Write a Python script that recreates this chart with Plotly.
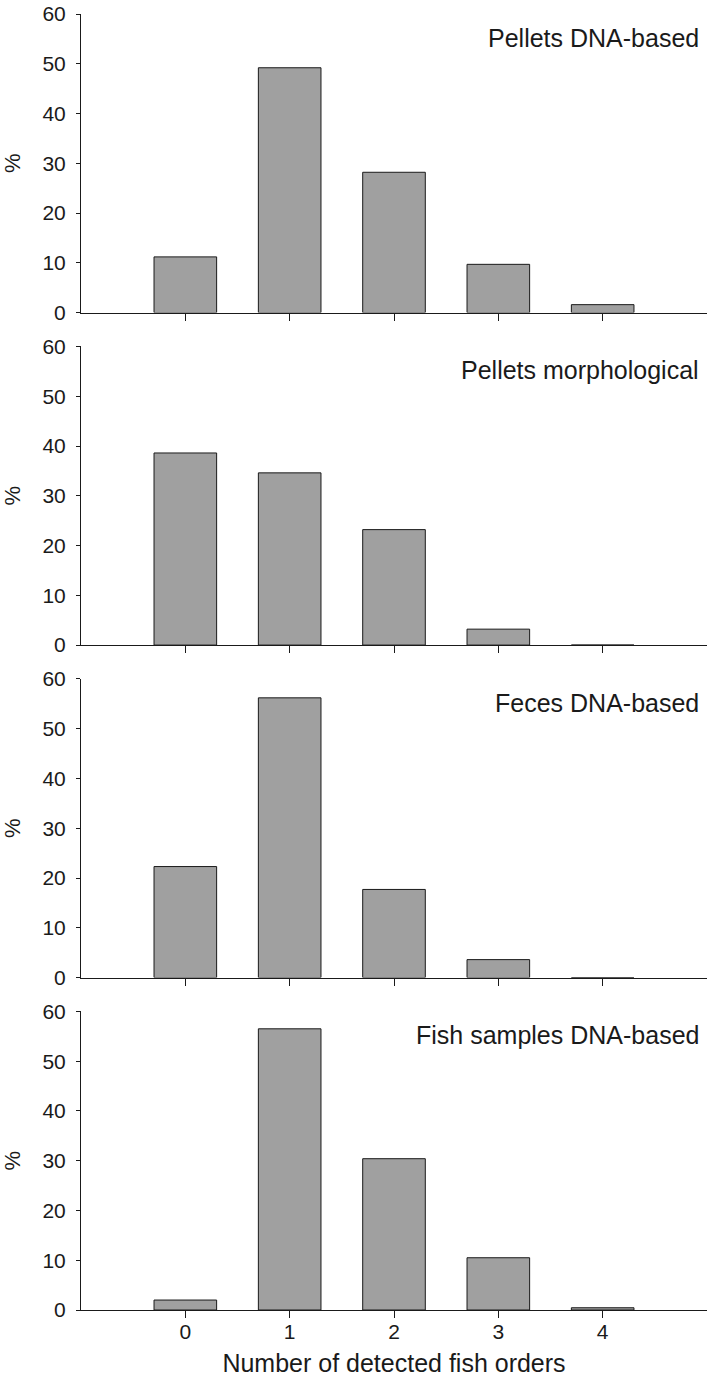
import plotly.graph_objects as go
from plotly.subplots import make_subplots

# number of detected fish orders
orders = [0, 1, 2, 3, 4]

panel_names = [
    "Pellets DNA-based",
    "Pellets morphological",
    "Feces DNA-based",
    "Fish samples DNA-based",
]

# % of samples
pellets_dna = [11.2, 49.2, 28.2, 9.7, 1.6]
pellets_morph = [38.6, 34.6, 23.2, 3.2, 0.0]
feces_dna = [22.3, 56.2, 17.7, 3.6, 0.0]
fish_dna = [2.0, 56.5, 30.4, 10.5, 0.45]

series = [pellets_dna, pellets_morph, feces_dna, fish_dna]

FONT = "Liberation Sans, Arial, sans-serif"
INK = "#1a1a1a"

fig = make_subplots(rows=4, cols=1, vertical_spacing=34 / 1302)

for i, (name, vals) in enumerate(zip(panel_names, series), start=1):
    fig.add_trace(
        go.Bar(
            x=orders,
            y=vals,
            width=0.6,
            marker=dict(color="#a0a0a0", line=dict(color=INK, width=1)),
            name=name,
        ),
        row=i, col=1,
    )
    fig.update_yaxes(
        range=[0, 60],
        tickvals=[0, 10, 20, 30, 40, 50, 60],
        ticks="outside",
        ticklen=4,
        tickcolor=INK,
        showline=True,
        linecolor=INK,
        linewidth=1,
        showgrid=False,
        zeroline=False,
        ticklabelstandoff=6,
        tickfont=dict(size=21, color=INK, family=FONT),
        title=dict(text="%", font=dict(size=22, color=INK, family=FONT), standoff=16),
        row=i, col=1,
    )
    fig.update_xaxes(
        range=[-1, 5],
        tickvals=orders,
        ticks="outside",
        ticklen=7,
        tickcolor=INK,
        showline=True,
        linecolor=INK,
        linewidth=1,
        showgrid=False,
        zeroline=False,
        showticklabels=(i == 4),
        ticklabelstandoff=-4,
        tickfont=dict(size=21, color=INK, family=FONT),
        row=i, col=1,
    )
    xref = "x domain" if i == 1 else f"x{i} domain"
    yref = "y domain" if i == 1 else f"y{i} domain"
    fig.add_annotation(
        text=name,
        xref=xref, yref=yref,
        x=1, y=1 - 24 / 300,
        xanchor="right", yanchor="middle",
        xshift=-6,
        showarrow=False,
        font=dict(size=25, color=INK, family=FONT),
    )

fig.update_xaxes(
    title=dict(text="Number of detected fish orders",
               font=dict(size=25, color=INK, family=FONT), standoff=12),
    row=4, col=1,
)

fig.update_layout(
    width=709,
    height=1377,
    showlegend=False,
    plot_bgcolor="white",
    paper_bgcolor="white",
    bargap=0.4,
    margin=dict(l=81, r=2, t=8, b=67),
    font=dict(family=FONT, color=INK),
)

# page body margin would otherwise shift the figure off the window
fig.write_html(
    "out.html",
    config={"displayModeBar": False},
    post_script="document.body.style.margin='0';document.body.style.overflow='hidden';",
)
